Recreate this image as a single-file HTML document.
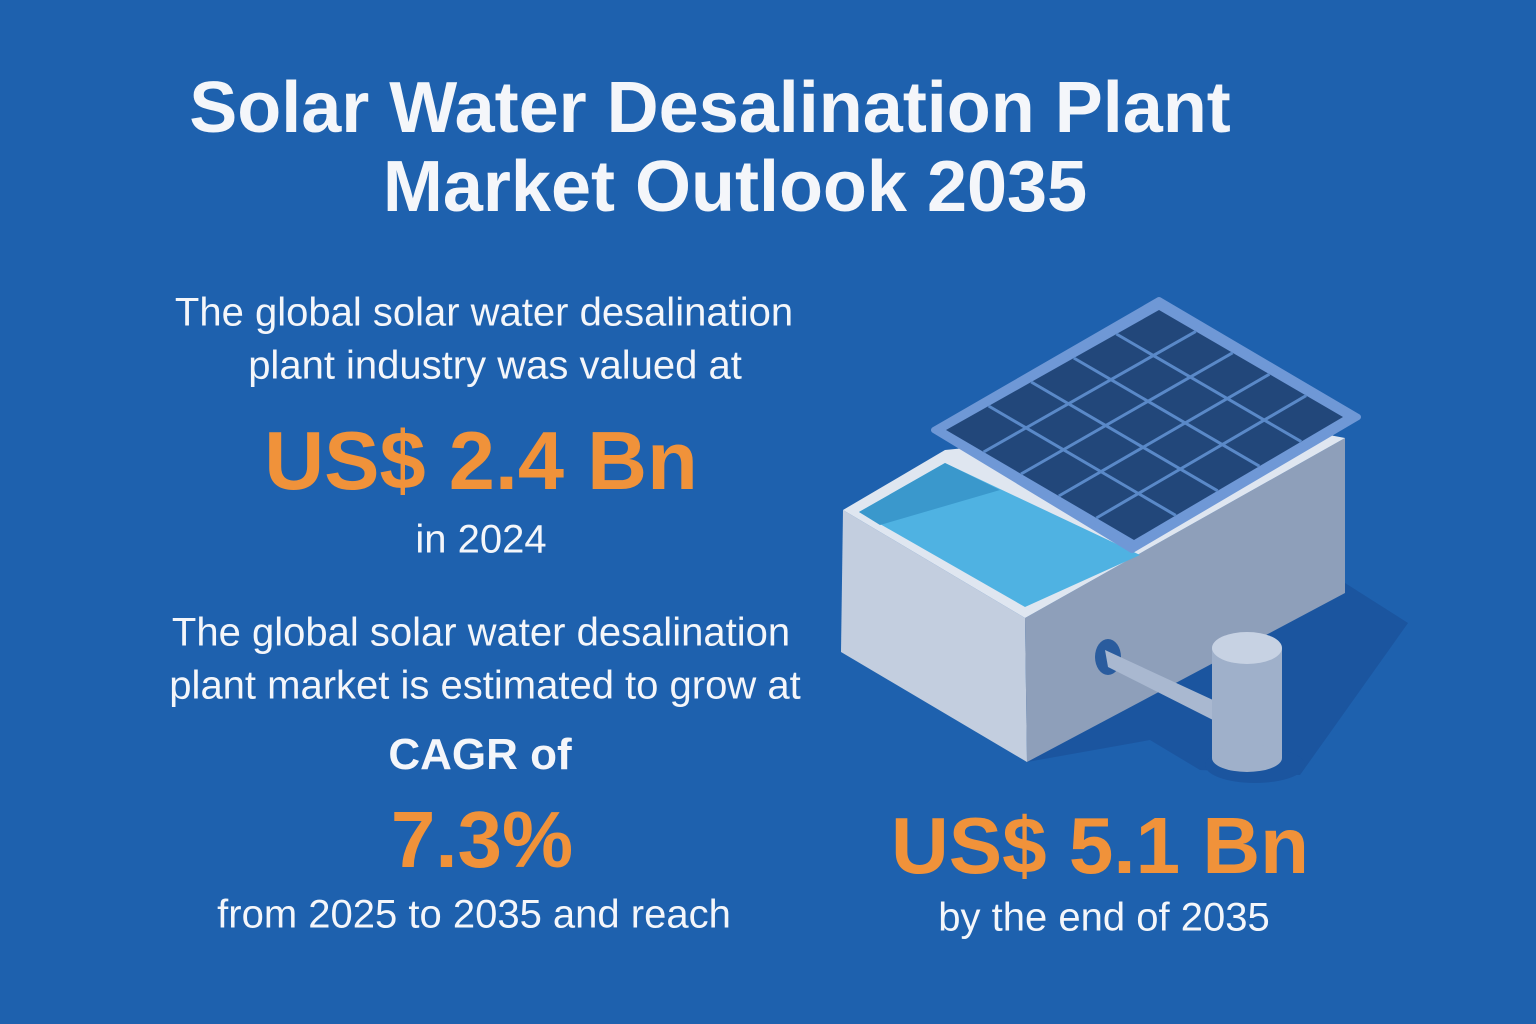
<!DOCTYPE html>
<html><head><meta charset="utf-8"><style>
body{margin:0;width:1536px;height:1024px;background:#1e61ae;overflow:hidden;font-family:"Liberation Sans",sans-serif;color:#f4f6fa;position:relative}
.t{position:absolute;white-space:nowrap;text-align:center;transform:translate(-50%,-50%)}
.title{font-weight:bold;font-size:72px}
.b{font-size:40px}
.o{color:#f0923a;font-weight:bold}
</style></head><body>
<div class="t title" style="left:710px;top:108px">Solar Water Desalination Plant</div>
<div class="t title" style="left:735px;top:187px">Market Outlook 2035</div>
<div class="t b" style="left:484px;top:313px">The global solar water desalination</div>
<div class="t b" style="left:495px;top:366px">plant industry was valued at</div>
<div class="t o" style="left:481px;top:461px;font-size:83px">US$ 2.4 Bn</div>
<div class="t b" style="left:481px;top:540px">in 2024</div>
<div class="t b" style="left:481px;top:633px">The global solar water desalination</div>
<div class="t b" style="left:485px;top:686px">plant market is estimated to grow at</div>
<div class="t" style="left:480px;top:755px;font-size:44px;font-weight:bold">CAGR of</div>
<div class="t o" style="left:482px;top:840px;font-size:80px">7.3%</div>
<div class="t b" style="left:474px;top:915px">from 2025 to 2035 and reach</div>
<div class="t o" style="left:1100px;top:846px;font-size:80px">US$ 5.1 Bn</div>
<div class="t b" style="left:1104px;top:918px">by the end of 2035</div>
<svg width="1536" height="1024" style="position:absolute;left:0;top:0">
<polygon points="1345,583 1408,623 1300,775 1200,770 1150,740 1027,762" fill="#1b559f"/>
<ellipse cx="1255" cy="765" rx="50" ry="18" fill="#1b559f"/>
<polygon points="843,510 1025,618 1027,762 841,652" fill="#c3cedf"/>
<polygon points="1025,618 1345,438 1345,593 1027,762" fill="#8e9fba"/>
<polygon points="843,510 945,450 1250,420 1345,438 1025,618" fill="#dfe6f0"/>
<polygon points="859,512 945,463 1140,555 1025,607" fill="#4fb2e2"/>
<polygon points="859,512 945,463 1000,490 880,525" fill="#3a98cc"/>
<ellipse cx="1108" cy="657" rx="13" ry="18" fill="#2a5c9e"/>
<polygon points="1105,650 1213,700 1213,720 1108,667" fill="#a9b8d0"/>
<rect x="1212" y="648" width="70" height="110" fill="#9fb0ca"/>
<ellipse cx="1247" cy="758" rx="35" ry="14" fill="#9fb0ca"/>
<ellipse cx="1247" cy="648" rx="35" ry="16" fill="#c7d2e3"/>
<polygon points="1159,300 1358,417 1132,550 934,430" fill="#6f98d6" stroke="#6f98d6" stroke-width="6" stroke-linejoin="round"/>
<polygon points="1159,310 1343,417 1134,540 946,430" fill="#22477a"/>
<g stroke="#5a89c8" stroke-width="3">
<line x1="988.6" y1="406" x2="1175.8" y2="515.4"/>
<line x1="1031.2" y1="382" x2="1217.6" y2="490.8"/>
<line x1="1073.8" y1="358" x2="1259.4" y2="466.2"/>
<line x1="1116.4" y1="334" x2="1301.2" y2="441.6"/>
<line x1="983.6" y1="452" x2="1195.8" y2="331.4"/>
<line x1="1021" y1="474" x2="1232.6" y2="352.8"/>
<line x1="1058.8" y1="496" x2="1269.4" y2="374.2"/>
<line x1="1096.4" y1="518" x2="1306.2" y2="395.6"/>
</g>
</svg>
</body></html>
